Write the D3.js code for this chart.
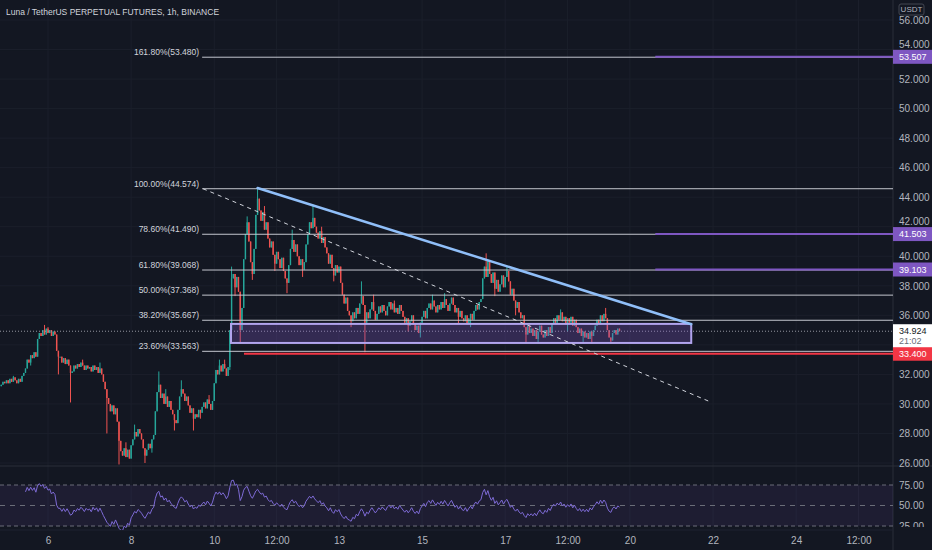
<!DOCTYPE html>
<html>
<head>
<meta charset="utf-8">
<script src="https://cdn.jsdelivr.net/npm/d3@7"></script>
<style>
  html, body { margin: 0; padding: 0; background: #131722; }
  svg { display: block; font-family: "Liberation Sans", Arial, sans-serif; }
</style>
</head>
<body>
<svg id="chart" width="932" height="550"></svg>
<script>
// LUNAUSDT perp, 1h closes from 4 Sep 21:00 to 19 Sep 18:00 (one line per day)
var closes = [
  31.3, 31.5, 31.4,
  31.6, 31.4, 31.7, 31.5, 31.8, 31.6, 31.4, 31.7, 31.5, 31.9, 32.1, 32.4, 33.0, 32.8, 33.3, 33.1, 33.5, 33.2, 34.4, 34.8, 34.6, 35.0, 34.7, 35.1,
  34.8, 35.0, 34.6, 34.9, 34.7, 33.6, 33.2, 33.2, 32.8, 33.1, 32.7, 33.0, 32.6, 32.1, 32.2, 32.6, 32.4, 32.7, 32.5, 32.8, 32.6, 32.3, 32.6, 32.4,
  32.5, 32.2, 32.6, 32.3, 32.5, 32.1, 32.4, 32.0, 31.5, 31.0, 30.4, 30.0, 29.5, 29.9, 29.3, 29.7, 28.8, 27.5, 26.8, 26.5, 27.0, 26.4, 26.9, 26.3,
  27.2, 27.6, 28.1, 27.8, 28.3, 28.0, 27.6, 27.0, 26.5, 26.9, 27.3, 27.0, 27.6, 27.9, 29.5, 30.8, 31.3, 30.4, 30.7, 30.0, 30.5, 29.8, 30.2, 29.6,
  29.3, 28.9, 28.7, 29.6, 30.5, 31.0, 30.7, 30.2, 30.5, 29.9, 29.4, 29.7, 29.0, 29.3, 29.1, 29.6, 29.4, 29.8, 30.1, 29.7, 30.3, 30.0, 29.6, 30.2,
  31.4, 32.3, 32.0, 32.6, 32.2, 32.7, 32.4, 31.9, 32.5, 35.0, 38.5, 38.8, 37.9, 38.6, 37.6, 35.0, 36.5, 39.8, 41.5, 42.3, 41.0, 39.6, 38.8, 40.5,
  42.8, 43.9, 43.1, 42.4, 43.0, 41.8, 42.3, 41.2, 40.6, 41.0, 40.1, 39.5, 40.3, 39.8, 39.2, 39.9, 39.0, 38.5, 38.2, 39.4, 40.5, 41.1, 40.3, 40.8,
  40.0, 39.4, 39.8, 39.1, 39.6, 40.8, 41.5, 42.3, 41.9, 42.6, 42.0, 41.6, 41.2, 41.7, 40.9, 41.3, 40.6, 40.2, 39.5, 40.1, 39.2, 38.7, 39.4, 38.9,
  39.3, 38.2, 37.4, 36.8, 37.2, 36.3, 36.0, 35.6, 36.2, 35.8, 36.5, 36.1, 36.8, 37.3, 36.7, 35.5, 36.2, 35.8, 36.4, 36.9, 36.3, 35.7, 36.1, 36.6,
  36.2, 36.7, 36.3, 36.0, 36.6, 36.9, 36.4, 36.8, 36.2, 36.5, 36.1, 36.7, 36.3, 35.9, 35.5, 35.8, 35.3, 35.6, 36.0, 35.4, 35.0, 35.3, 34.8, 35.5,
  35.9, 36.3, 35.8, 36.5, 36.8, 36.4, 37.0, 36.6, 36.2, 36.7, 36.4, 36.9, 36.5, 37.1, 36.7, 36.3, 36.8, 37.2, 36.7, 36.2, 36.5, 35.9, 36.3, 35.8,
  35.6, 36.0, 35.4, 35.8, 36.1, 35.7, 36.3, 36.7, 36.4, 36.9, 37.1, 38.5, 39.3, 38.6, 39.7, 38.8, 38.2, 38.9, 37.8, 38.4, 37.6, 38.1, 38.7, 37.9,
  38.6, 39.0, 38.3, 37.4, 37.8, 37.0, 36.5, 36.9, 36.2, 35.8, 36.0, 35.2, 34.7, 35.3, 34.8, 35.1, 34.6, 35.0, 34.4, 34.9, 35.3, 34.7, 34.5, 35.0,
  34.6, 35.2, 34.8, 35.4, 35.8, 35.5, 36.0, 35.7, 36.2, 35.6, 35.9, 35.4, 35.8, 35.5, 35.9, 35.3, 35.7, 35.2, 34.8, 35.1, 34.6, 34.9, 34.5, 34.8,
  34.4, 34.9, 34.6, 35.0, 35.3, 35.7, 35.4, 36.0, 35.6, 36.1, 35.8, 35.0, 34.5, 34.3, 34.8, 35.0, 34.7, 35.1, 34.924
];
var firstOpen = 31.2;

// wicks that stick out of the body: [day, hour, price]
var wickHighs = [
  [5, 4, 31.9], [5, 22, 35.35], [6, 0, 35.2], [6, 20, 33.0], [7, 6, 32.8], [7, 21, 27.4],
  [8, 2, 28.6], [8, 16, 32.2], [8, 20, 31.0], [9, 5, 31.6], [9, 21, 30.6], [10, 3, 33.0],
  [10, 6, 33.0], [10, 10, 39.3], [10, 19, 42.7], [11, 1, 44.57], [11, 5, 43.4], [11, 21, 41.8],
  [12, 9, 43.5], [12, 14, 42.0], [13, 13, 38.3], [13, 20, 37.4], [14, 8, 37.0], [15, 6, 37.4],
  [15, 13, 37.5], [16, 13, 40.2], [17, 1, 39.3], [18, 8, 36.4], [19, 10, 36.5]
];
var wickLows = [
  [5, 14, 32.6], [6, 6, 32.0], [6, 13, 30.1], [7, 10, 28.0], [7, 17, 25.9], [8, 8, 26.0],
  [8, 12, 26.7], [9, 1, 28.2], [9, 12, 28.2], [9, 16, 29.0], [10, 9, 32.3], [10, 12, 37.3],
  [10, 15, 34.1], [10, 22, 38.4], [11, 11, 39.0], [11, 18, 37.5], [12, 3, 38.6], [12, 21, 38.3],
  [13, 7, 35.2], [13, 15, 33.5], [14, 16, 34.9], [14, 23, 34.5], [15, 21, 35.4], [16, 4, 35.2],
  [16, 18, 37.3], [17, 6, 36.0], [17, 12, 34.1], [17, 19, 34.1], [18, 12, 34.9], [18, 21, 34.2],
  [19, 2, 34.1], [19, 13, 34.1]
];

var fibRatios = ["161.80%", "100.00%", "78.60%", "61.80%", "50.00%", "38.20%", "23.60%"];
var fibPrices = [53.480, 44.574, 41.490, 39.068, 37.368, 35.667, 33.563];
var rayPrices = [53.507, 41.503, 39.103];
var supportPrice = 33.400;
var countdown = "21:02";

var priceTicks = [26, 28, 30, 32, 34, 36, 38, 40, 42, 44, 46, 48, 50, 52, 54, 56];
var rsiTicks = [25, 50, 75];
var timeTicks = [
  Date.UTC(2021, 8, 6), Date.UTC(2021, 8, 8), Date.UTC(2021, 8, 10), Date.UTC(2021, 8, 11, 12),
  Date.UTC(2021, 8, 13), Date.UTC(2021, 8, 15), Date.UTC(2021, 8, 17), Date.UTC(2021, 8, 18, 12),
  Date.UTC(2021, 8, 20), Date.UTC(2021, 8, 22), Date.UTC(2021, 8, 24), Date.UTC(2021, 8, 25, 12)
].map(function(t) { return new Date(t); });
var timeLabels = ["6", "8", "10", "12:00", "13", "15", "17", "12:00", "20", "22", "24", "12:00"];

// drawings anchored on time / price
var fibStart = new Date(Date.UTC(2021, 8, 9, 17));
var supportStart = new Date(Date.UTC(2021, 8, 10, 17, 10));
var rayStart = new Date(Date.UTC(2021, 8, 20, 14, 40));
var boxTimes = [new Date(Date.UTC(2021, 8, 10, 9, 40)), new Date(Date.UTC(2021, 8, 21, 11, 25))];
var boxPrices = [35.42, 34.13];
var trendTimes = [new Date(Date.UTC(2021, 8, 11, 1)), new Date(Date.UTC(2021, 8, 21, 11, 25))];
var trendPrices = [44.62, 35.40];
var dashTimes = [new Date(Date.UTC(2021, 8, 9, 17, 30)), new Date(Date.UTC(2021, 8, 21, 21, 15))];
var dashPrices = [44.574, 30.2];

var W = 932, H = 550, plotW = 893,
    mainBottom = 466, rsiTop = 467, rsiBottom = 530;
var up = "#26a69a", down = "#ef5350", txt = "#b2b5be";

var svg = d3.select("#chart");
svg.append("rect").attr("width", W).attr("height", H).attr("fill", "#131722");

var x = d3.scaleUtc()
  .domain([new Date(Date.UTC(2021, 8, 6)), new Date(Date.UTC(2021, 8, 25, 12))])
  .range([48, 858.5]);
var y = d3.scaleLinear().domain([26, 56]).range([463, 20]);
var yr = d3.scaleLinear().domain([25, 75]).range([526, 485]);

var defs = svg.append("defs");
defs.append("clipPath").attr("id", "clipMain")
  .append("rect").attr("width", plotW).attr("height", mainBottom);
defs.append("clipPath").attr("id", "clipRsi")
  .append("rect").attr("y", rsiTop).attr("width", plotW).attr("height", rsiBottom - rsiTop);
// the scale of the RSI pane ends a little above the time axis, so 25.00 is cut
defs.append("clipPath").attr("id", "clipRsiAxis")
  .append("rect").attr("x", plotW).attr("y", rsiTop).attr("width", W - plotW).attr("height", rsiBottom - rsiTop - 3);

// grid
var grid = svg.append("g").attr("stroke", "#1b1f2b").attr("stroke-width", 1);
grid.selectAll("line.vg").data(timeTicks).enter().append("line").attr("class", "vg")
  .attr("x1", function(d) { return x(d); }).attr("x2", function(d) { return x(d); })
  .attr("y1", 0).attr("y2", rsiBottom);
grid.selectAll("line.hg").data(priceTicks).enter().append("line").attr("class", "hg")
  .attr("x1", 0).attr("x2", plotW)
  .attr("y1", function(d) { return y(d); }).attr("y2", function(d) { return y(d); });

// pane borders
svg.append("line").attr("x1", 0).attr("x2", W).attr("y1", mainBottom).attr("y2", mainBottom)
  .attr("stroke", "#2a2e39");
svg.append("line").attr("x1", plotW).attr("x2", plotW).attr("y1", 0).attr("y2", H)
  .attr("stroke", "#2a2e39");
svg.append("line").attr("x1", 0).attr("x2", plotW).attr("y1", rsiBottom).attr("y2", rsiBottom)
  .attr("stroke", "#1f2330");

// candles
var hiMap = {}, loMap = {};
wickHighs.forEach(function(w) { hiMap[w[0] + "-" + w[1]] = w[2]; });
wickLows.forEach(function(w) { loMap[w[0] + "-" + w[1]] = w[2]; });
var t0 = Date.UTC(2021, 8, 4, 21);
var candles = closes.map(function(c, i) {
  var t = new Date(t0 + i * 36e5);
  var o = i ? closes[i - 1] : firstOpen;
  var key = t.getUTCDate() + "-" + t.getUTCHours();
  return {
    t: t, o: o, c: c,
    h: Math.max(o, c, hiMap[key] || 0),
    l: Math.min(o, c, loMap[key] || Infinity)
  };
});

var cg = svg.append("g").attr("clip-path", "url(#clipMain)");
cg.selectAll("line.wick").data(candles).enter().append("line").attr("class", "wick")
  .attr("x1", function(d) { return x(d.t); }).attr("x2", function(d) { return x(d.t); })
  .attr("y1", function(d) { return y(d.h); }).attr("y2", function(d) { return y(d.l); })
  .attr("stroke", function(d) { return d.c >= d.o ? up : down; })
  .attr("stroke-width", 1);
cg.selectAll("rect.body").data(candles).enter().append("rect").attr("class", "body")
  .attr("x", function(d) { return x(d.t) - 0.7; })
  .attr("width", 1.4)
  .attr("y", function(d) { return y(Math.max(d.o, d.c)); })
  .attr("height", function(d) { return Math.max(1, Math.abs(y(d.o) - y(d.c))); })
  .attr("fill", function(d) { return d.c >= d.o ? up : down; });

// drawings
var dg = svg.append("g").attr("clip-path", "url(#clipMain)");
var last = closes[closes.length - 1];

dg.append("line")
  .attr("x1", 0).attr("x2", plotW).attr("y1", y(last)).attr("y2", y(last))
  .attr("stroke", "#9598a1").attr("stroke-dasharray", "1,2");

dg.selectAll("line.fib").data(fibPrices).enter().append("line").attr("class", "fib")
  .attr("x1", x(fibStart)).attr("x2", plotW)
  .attr("y1", function(d) { return y(d); }).attr("y2", function(d) { return y(d); })
  .attr("stroke", "#c3c6ce").attr("stroke-width", 1);
dg.selectAll("text.fib").data(fibPrices).enter().append("text").attr("class", "fib")
  .attr("x", x(fibStart) - 3)
  .attr("y", function(d) { return y(d) - 2; })
  .attr("text-anchor", "end")
  .attr("fill", "#d1d4dc").style("font-size", "8.5px")
  .text(function(d, i) { return fibRatios[i] + "(" + d3.format(".3f")(d) + ")"; });

dg.append("rect")
  .attr("x", x(boxTimes[0])).attr("width", x(boxTimes[1]) - x(boxTimes[0]))
  .attr("y", y(boxPrices[0])).attr("height", y(boxPrices[1]) - y(boxPrices[0]))
  .attr("fill", "rgba(126,87,194,0.3)")
  .attr("stroke", "#b1a4ee").attr("stroke-width", 2);

dg.append("line")
  .attr("x1", x(supportStart)).attr("x2", plotW)
  .attr("y1", y(supportPrice)).attr("y2", y(supportPrice))
  .attr("stroke", "#f23645").attr("stroke-width", 2);

dg.selectAll("line.ray").data(rayPrices).enter().append("line").attr("class", "ray")
  .attr("x1", x(rayStart)).attr("x2", plotW)
  .attr("y1", function(d) { return y(d); }).attr("y2", function(d) { return y(d); })
  .attr("stroke", "#7e57c2").attr("stroke-width", 2);

dg.append("line")
  .attr("x1", x(dashTimes[0])).attr("y1", y(dashPrices[0]))
  .attr("x2", x(dashTimes[1])).attr("y2", y(dashPrices[1]))
  .attr("stroke", "#d1d4dc").attr("stroke-width", 1).attr("stroke-dasharray", "4,4");

dg.append("line")
  .attr("x1", x(trendTimes[0])).attr("y1", y(trendPrices[0]))
  .attr("x2", x(trendTimes[1])).attr("y2", y(trendPrices[1]))
  .attr("stroke", "#90bff9").attr("stroke-width", 2.5).attr("stroke-linecap", "round");

// RSI 14 (Wilder) on the closes
function rsi(values, n) {
  var out = [], ag = 0, al = 0;
  for (var i = 1; i < values.length; i++) {
    var d = values[i] - values[i - 1], g = Math.max(d, 0), l = Math.max(-d, 0);
    if (i <= n) {
      ag += g; al += l;
      if (i === n) { ag /= n; al /= n; out.push([candles[i].t, 100 - 100 / (1 + ag / al)]); }
    } else {
      ag = (ag * (n - 1) + g) / n;
      al = (al * (n - 1) + l) / n;
      out.push([candles[i].t, al === 0 ? 100 : 100 - 100 / (1 + ag / al)]);
    }
  }
  return out;
}
var rsiData = rsi(closes, 14);

var rg = svg.append("g").attr("clip-path", "url(#clipRsi)");
rg.append("rect")
  .attr("x", 0).attr("width", plotW)
  .attr("y", yr(75)).attr("height", yr(25) - yr(75))
  .attr("fill", "rgba(126,87,194,0.1)");
rg.selectAll("line.lvl").data(rsiTicks).enter().append("line").attr("class", "lvl")
  .attr("x1", 0).attr("x2", plotW)
  .attr("y1", function(d) { return yr(d); }).attr("y2", function(d) { return yr(d); })
  .attr("stroke", "#6a6d78")
  .attr("stroke-dasharray", function(d) { return d === 50 ? "5,5" : "4,3"; });
rg.append("path").datum(rsiData)
  .attr("fill", "none").attr("stroke", "#7e6bd6").attr("stroke-width", 1)
  .attr("d", d3.line().x(function(d) { return x(d[0]); }).y(function(d) { return yr(d[1]); }));

// price axis
var ya = svg.append("g").attr("transform", "translate(" + plotW + ",0)")
  .style("color", txt).attr("font-size", 9).attr("font-family", "Liberation Sans, Arial, sans-serif")
  .call(d3.axisRight(y).tickValues(priceTicks).tickFormat(d3.format(".3f")).tickSize(0).tickPadding(6));
ya.select(".domain").remove();

// tags sit on top of the scale: tick labels under them are pushed up or hidden
var tagBands = rayPrices.concat([supportPrice]).map(function(p) { return [y(p) - 7, y(p) + 7]; })
  .concat([[y(last) - 7, y(last) + 16]]);
ya.selectAll(".tick").each(function(d) {
  var ty = y(d), t = d3.select(this).select("text");
  tagBands.forEach(function(b) {
    if (ty > b[0] + 6 && ty < b[1] + 4) t.remove();
    else if (ty + 5 > b[0] && ty < b[1]) t.attr("y", b[0] - 5.5 - ty);
  });
});

var ra = svg.append("g").attr("clip-path", "url(#clipRsiAxis)")
  .append("g").attr("transform", "translate(" + plotW + ",0)")
  .style("color", txt).attr("font-size", 9).attr("font-family", "Liberation Sans, Arial, sans-serif")
  .call(d3.axisRight(yr).tickValues(rsiTicks).tickFormat(d3.format(".2f")).tickSize(0).tickPadding(6));
ra.select(".domain").remove();

// time axis
var xa = svg.append("g").attr("transform", "translate(0," + (rsiBottom + 4) + ")")
  .style("color", txt).attr("font-size", 9).attr("font-family", "Liberation Sans, Arial, sans-serif")
  .call(d3.axisBottom(x).tickValues(timeTicks)
    .tickFormat(function(d, i) { return timeLabels[i]; }).tickSize(0).tickPadding(3));
xa.select(".domain").remove();

// price tags on the axis
function tag(price, bg, fg) {
  var g = svg.append("g");
  g.append("rect").attr("x", plotW).attr("y", y(price) - 7).attr("width", W - plotW).attr("height", 14)
    .attr("fill", bg);
  g.append("text").attr("x", plotW + 6).attr("y", y(price)).attr("dy", "0.35em")
    .attr("fill", fg).style("font-size", "9px").text(d3.format(".3f")(price));
}
rayPrices.forEach(function(p) { tag(p, "#7e57c2", "#ffffff"); });
tag(supportPrice, "#f23645", "#ffffff");

var cur = svg.append("g");
cur.append("rect").attr("x", plotW).attr("y", y(last) - 7).attr("width", W - plotW).attr("height", 23)
  .attr("fill", "#ffffff");
cur.append("text").attr("x", plotW + 6).attr("y", y(last)).attr("dy", "0.35em")
  .attr("fill", "#131722").style("font-size", "9px").text(d3.format(".3f")(last));
cur.append("text").attr("x", plotW + 6).attr("y", y(last) + 10).attr("dy", "0.35em")
  .attr("fill", "#6a6d78").style("font-size", "9px").text(countdown);

// currency badge
svg.append("rect").attr("x", 899).attr("y", 4).attr("width", 25).attr("height", 11).attr("rx", 2)
  .attr("fill", "none").attr("stroke", "#434651");
svg.append("text").attr("x", 911.5).attr("y", 9.5).attr("dy", "0.35em").attr("text-anchor", "middle")
  .attr("fill", txt).style("font-size", "8px").text("USDT");

// title
svg.append("text").attr("x", 6).attr("y", 15)
  .attr("fill", "#d1d4dc").style("font-size", "8.5px")
  .text("Luna / TetherUS PERPETUAL FUTURES, 1h, BINANCE");
</script>
</body>
</html>
